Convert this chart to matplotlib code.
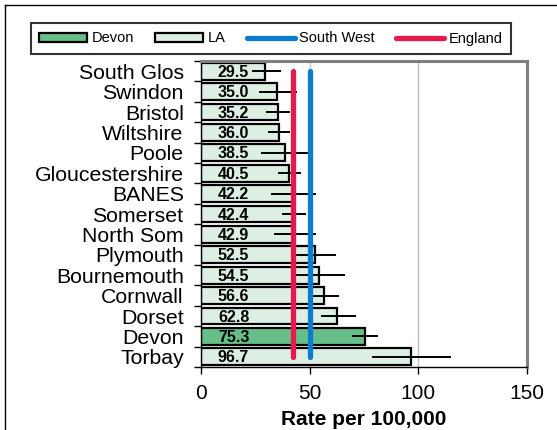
import matplotlib
matplotlib.use("Agg")
import matplotlib.pyplot as plt
import numpy as np
from matplotlib.patches import Patch
from matplotlib.lines import Line2D

plt.rcParams["font.family"] = ["Liberation Sans", "DejaVu Sans"]

# data
areas = ["South Glos", "Swindon", "Bristol", "Wiltshire", "Poole", "Gloucestershire",
         "BANES", "Somerset", "North Som", "Plymouth", "Bournemouth", "Cornwall",
         "Dorset", "Devon", "Torbay"]
rates = [29.5, 35.0, 35.2, 36.0, 38.5, 40.5, 42.2, 42.4, 42.9, 52.5, 54.5, 56.6, 62.8, 75.3, 96.7]
ci_low = [23.3, 26.7, 29.9, 31.0, 27.6, 35.6, 32.1, 37.1, 33.6, 43.7, 43.7, 51.4, 55.1, 69.5, 78.5]
ci_high = [36.8, 44.0, 41.0, 41.0, 49.4, 46.0, 52.9, 48.3, 52.9, 62.1, 66.3, 63.5, 71.2, 81.5, 114.9]
south_west = 50.2
england = 42.2

devon_col = "#66bf88"
la_col = "#dcefe2"
sw_col = "#0b7ccf"
eng_col = "#e8184f"

fig = plt.figure(figsize=(5.57, 4.30), dpi=100)
ax = fig.add_axes([201 / 557, 1 - 367 / 430, 326 / 557, 306 / 430])

y = np.arange(len(areas))
colors = [devon_col if a == "Devon" else la_col for a in areas]
ax.barh(y, rates, height=0.82, color=colors, edgecolor="black", linewidth=1.6, zorder=2)

lo = np.array(rates) - np.array(ci_low)
hi = np.array(ci_high) - np.array(rates)
ax.errorbar(rates, y, xerr=[lo, hi], fmt="none", ecolor="black", elinewidth=1.4,
            capsize=0, zorder=3)

for yi, r in zip(y, rates):
    ax.text(7.8, yi + 0.05, f"{r:.1f}", ha="left", va="center", fontsize=11.5,
            fontweight="bold", zorder=4)

ax.plot([england, england], [y[0], y[-1]], color=eng_col, lw=3.8,
        solid_capstyle="round", zorder=5)
ax.plot([south_west, south_west], [y[0], y[-1]], color=sw_col, lw=3.8,
        solid_capstyle="round", zorder=5)

ax.set_xlim(0, 150)
ax.set_ylim(len(areas) - 0.5, -0.5)
ax.set_xticks([0, 50, 100, 150])
ax.set_xticklabels(["0", "50", "100", "150"], fontsize=15)
ax.set_yticks(y)
ax.set_yticklabels(areas, fontsize=15.3)
ax.tick_params(axis="y", which="major", length=0, pad=12.5)
ax.set_yticks(np.arange(len(areas) + 1) - 0.5, minor=True)
ax.tick_params(axis="y", which="minor", length=5, width=1, direction="out")
ax.tick_params(axis="x", length=5, width=1, direction="out", pad=7)
ax.set_xlabel("Rate per 100,000", fontsize=15, fontweight="bold", labelpad=5)

ax.grid(axis="x", color="#c0c0c0", lw=1, zorder=0)
ax.set_axisbelow(True)
for s in ["top", "right"]:
    ax.spines[s].set_color("#808080")
    ax.spines[s].set_linewidth(2.2)
for s in ["left", "bottom"]:
    ax.spines[s].set_color("black")
    ax.spines[s].set_linewidth(1)

handles = [Patch(facecolor=devon_col, edgecolor="black", linewidth=1.6),
           Patch(facecolor=la_col, edgecolor="black", linewidth=1.6),
           Line2D([0], [0], color=sw_col, lw=3.8, solid_capstyle="round"),
           Line2D([0], [0], color=eng_col, lw=3.8, solid_capstyle="round")]
leg = fig.legend(handles, ["Devon", "LA", "South West", "England"], ncol=4,
                 loc="center", bbox_to_anchor=(271 / 557, 1 - 38.5 / 430),
                 fontsize=10.5, frameon=True, fancybox=False, handlelength=3.3,
                 handleheight=0.55, handletextpad=0.3, columnspacing=1.45,
                 borderpad=0.6, borderaxespad=0)
leg.get_frame().set_edgecolor("black")
leg.get_frame().set_linewidth(1.5)

# outer chart frame (only top and left visible in the crop)
fig.add_artist(Line2D([5 / 557, 5 / 557], [0, 1 - 5 / 430], color="black", lw=1,
                      transform=fig.transFigure))
fig.add_artist(Line2D([5 / 557, 1], [1 - 5 / 430, 1 - 5 / 430], color="black", lw=1,
                      transform=fig.transFigure))

fig.savefig("out.png", dpi=100)
